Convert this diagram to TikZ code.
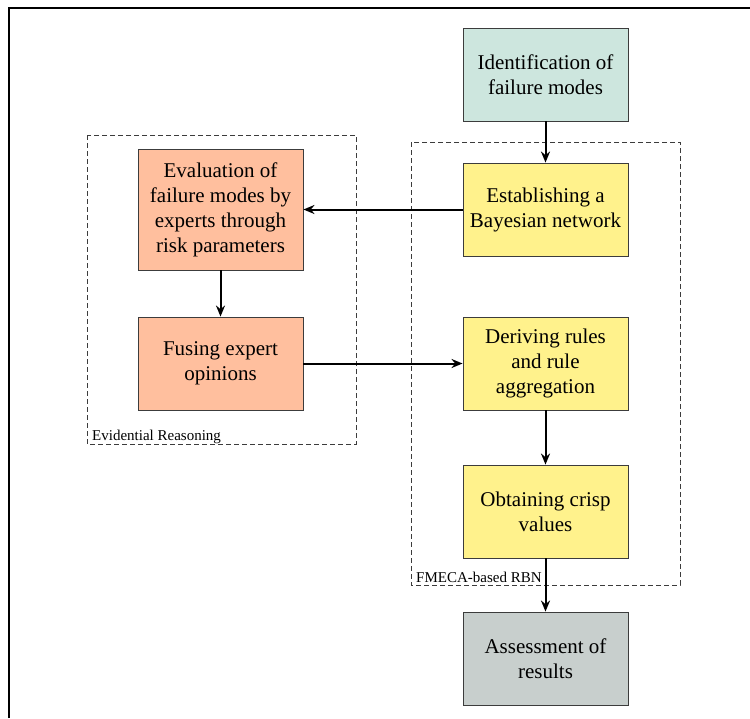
\documentclass[tikz,border=0pt]{standalone}
\usepackage{fontspec}
\setmainfont{Liberation Serif}
\usetikzlibrary{arrows.meta}
\definecolor{cteal}{RGB}{205,230,222}
\definecolor{cyel}{RGB}{255,242,140}
\definecolor{csalm}{RGB}{255,191,158}
\definecolor{cgrey}{RGB}{200,207,205}
\definecolor{cedge}{RGB}{60,60,60}
\tikzset{
  stepbox/.style={draw=cedge, line width=0.9pt, minimum width=165pt, minimum height=93pt,
    align=center, inner sep=2pt, font=\fontsize{21}{25}\selectfont},
  grp/.style={draw=cedge, line width=0.8pt, dash pattern=on 5pt off 3pt},
  grplabel/.style={font=\fontsize{15}{17}\selectfont, inner sep=0pt, anchor=base west},
  flowarrow/.style={line width=2pt, >={Stealth[length=11pt,width=9pt]}, ->},
}
\begin{document}
\begin{tikzpicture}[x=1pt,y=-1pt]
\useasboundingbox (0,0) rectangle (750,718);
% frame
\draw[line width=1.3pt] (9,718) -- (9,8) -- (750,8);
% groups
\draw[grp] (87,135) rectangle (356,444);
\draw[grp] (411,142) rectangle (680,585);
\node[grplabel] (lab1) at (92,440) {Evidential Reasoning};
\node[grplabel] (lab2) at (416,582) {FMECA-based RBN};
% boxes
\node[stepbox, fill=cteal] (ident) at (545.5,74.5) {Identification of\\failure modes};
\node[stepbox, fill=cyel] (estab) at (545.5,209.5) {Establishing a\\Bayesian network};
\node[stepbox, fill=cyel] (deriv) at (545.5,363.5) {Deriving rules\\and rule\\aggregation};
\node[stepbox, fill=cyel] (obtain) at (545.5,511.5) {Obtaining crisp\\values};
\node[stepbox, fill=cgrey] (assess) at (545.5,658.5) {Assessment of\\results};
\node[stepbox, fill=csalm, minimum height=121pt] (eval) at (220.5,209.5) {Evaluation of\\failure modes by\\experts through\\risk parameters};
\node[stepbox, fill=csalm] (fuse) at (220.5,363.5) {Fusing expert\\opinions};
% connectors
\draw[flowarrow] (ident) -- (estab);
\draw[flowarrow] (estab) -- (eval);
\draw[flowarrow] (eval) -- (fuse);
\draw[flowarrow] (fuse) -- (deriv);
\draw[flowarrow] (deriv) -- (obtain);
\draw[flowarrow] (obtain) -- (assess);
\end{tikzpicture}
\end{document}
